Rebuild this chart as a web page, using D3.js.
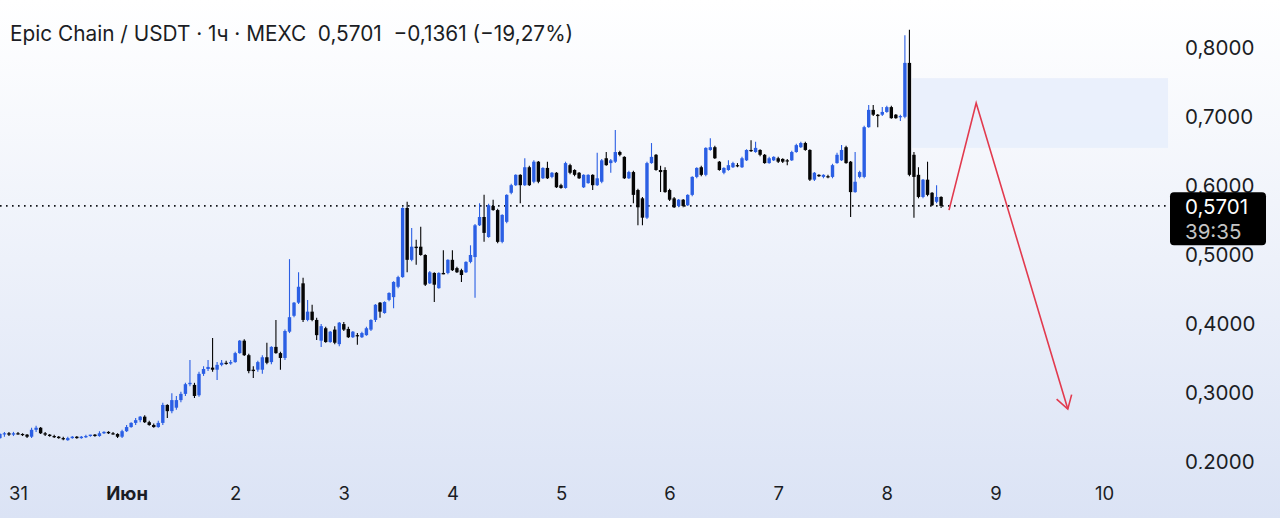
<!DOCTYPE html>
<html><head><meta charset="utf-8">
<script src="https://cdn.jsdelivr.net/npm/d3@7"></script>
<style>html,body{margin:0;padding:0;overflow:hidden;background:#fff}svg{display:block}</style>
</head><body><svg id="c" width="1280" height="518"></svg>
<script>
// ---- DATA (hourly candles, first candle = 30 May 20:00) ----
const opens = [
.234,.240,.241,.239,.241,.240,.239,.236,.246,.249,
.241,.239,.237,.236,.234,.231,.234,.236,.234,.236,
.237,.239,.237,.241,.243,.241,.240,.236,.244,.250,
.256,.260,.265,.257,.253,.250,.256,.282,.273,.278,
.289,.298,.312,.311,.296,.327,.334,.336,.333,.340,
.343,.342,.344,.357,.375,.354,.333,.333,.333,.351,
.344,.366,.357,.350,.388,.411,.430,.458,.405,.417,
.405,.375,.393,.373,.391,.370,.399,.392,.380,.383,
.380,.383,.391,.405,.430,.415,.434,.438,.453,.467,
.567,.492,.511,.511,.499,.458,.473,.451,.473,.473,
.492,.480,.477,.474,.489,.496,.542,.554,.525,.570,
.564,.518,.547,.589,.600,.615,.600,.626,.605,.634,
.610,.625,.612,.618,.600,.596,.629,.622,.618,.597,
.603,.615,.600,.605,.639,.632,.634,.648,.641,.610,
.619,.593,.581,.553,.632,.644,.622,.622,.593,.581,
.570,.579,.571,.586,.612,.626,.615,.651,.655,.634,
.618,.622,.626,.629,.626,.636,.651,.648,.651,.644,
.632,.636,.639,.638,.636,.636,.648,.655,.661,.651,
.608,.615,.612,.613,.612,.632,.636,.655,.634,.590,
.612,.612,.684,.709,.702,.702,.706,.713,.702,.699,
.699,.777,.644,.615,.583,.608,.589,.576,.583];
const highs = [
.241,.243,.243,.243,.243,.241,.240,.249,.252,.250,
.243,.240,.239,.237,.236,.236,.237,.237,.237,.239,
.239,.240,.244,.244,.244,.243,.241,.246,.253,.257,
.263,.266,.267,.259,.255,.259,.285,.283,.299,.295,
.301,.314,.347,.314,.330,.338,.347,.379,.344,.347,
.346,.347,.359,.376,.377,.356,.338,.346,.354,.372,
.367,.405,.359,.391,.493,.431,.474,.466,.434,.427,
.408,.399,.395,.389,.396,.402,.402,.395,.389,.386,
.388,.395,.406,.428,.431,.432,.445,.461,.469,.568,
.576,.538,.521,.540,.500,.476,.474,.474,.506,.493,
.506,.482,.479,.490,.513,.544,.574,.586,.573,.579,
.566,.558,.587,.602,.616,.616,.639,.628,.636,.635,
.626,.634,.619,.619,.602,.634,.631,.623,.619,.616,
.616,.616,.647,.638,.648,.638,.680,.650,.642,.621,
.621,.595,.583,.634,.661,.645,.628,.626,.595,.583,
.580,.580,.587,.613,.626,.628,.655,.668,.657,.635,
.626,.636,.634,.632,.641,.652,.665,.663,.652,.645,
.641,.642,.641,.639,.638,.650,.660,.663,.663,.652,
.619,.616,.616,.615,.631,.647,.658,.657,.635,.648,
.621,.686,.716,.716,.703,.713,.715,.715,.703,.702,
.817,.825,.648,.626,.609,.634,.590,.600,.584];
const lows = [
.233,.236,.237,.237,.239,.237,.234,.234,.243,.240,
.237,.236,.234,.233,.231,.230,.233,.233,.233,.234,
.236,.236,.236,.240,.240,.239,.234,.234,.243,.249,
.253,.257,.256,.252,.249,.249,.253,.263,.270,.275,
.286,.295,.309,.292,.294,.324,.331,.330,.318,.338,
.340,.340,.343,.356,.353,.328,.321,.330,.327,.341,
.341,.356,.333,.347,.386,.409,.428,.402,.403,.403,
.376,.366,.372,.372,.370,.367,.389,.379,.379,.369,
.379,.382,.389,.402,.408,.414,.432,.422,.451,.466,
.474,.490,.485,.498,.454,.457,.431,.450,.471,.471,
.476,.473,.460,.473,.487,.437,.541,.518,.524,.563,
.516,.516,.545,.587,.599,.574,.599,.599,.603,.603,
.609,.609,.610,.596,.595,.595,.616,.613,.609,.596,
.602,.593,.599,.603,.628,.618,.632,.642,.609,.609,
.574,.542,.542,.551,.631,.621,.590,.589,.577,.567,
.568,.568,.570,.584,.610,.613,.613,.650,.638,.621,
.616,.621,.625,.626,.625,.635,.648,.647,.642,.631,
.631,.635,.632,.632,.629,.635,.647,.654,.650,.606,
.606,.612,.610,.610,.610,.631,.635,.631,.554,.589,
.610,.610,.683,.700,.684,.700,.705,.696,.696,.693,
.697,.613,.553,.581,.581,.584,.570,.574,.567];
const closes = [
.240,.241,.239,.241,.240,.239,.236,.246,.249,.241,
.239,.237,.236,.234,.233,.234,.236,.234,.236,.237,
.239,.237,.241,.243,.241,.240,.236,.244,.250,.256,
.260,.265,.257,.253,.250,.256,.282,.273,.289,.289,
.298,.312,.314,.295,.327,.334,.337,.333,.340,.343,
.342,.344,.357,.375,.354,.331,.331,.344,.351,.343,
.366,.357,.350,.389,.409,.430,.453,.405,.417,.405,
.383,.396,.373,.388,.372,.401,.391,.380,.388,.382,
.386,.393,.405,.427,.417,.431,.444,.460,.467,.567,
.492,.511,.509,.499,.456,.474,.456,.473,.471,.492,
.477,.474,.470,.489,.499,.542,.554,.531,.571,.564,
.518,.557,.586,.600,.615,.600,.626,.600,.634,.605,
.625,.610,.618,.597,.596,.632,.618,.615,.610,.615,
.615,.600,.610,.636,.629,.636,.648,.644,.610,.619,
.586,.568,.553,.632,.641,.622,.619,.590,.579,.568,
.579,.570,.586,.612,.625,.615,.654,.655,.639,.622,
.625,.629,.632,.628,.639,.651,.650,.654,.644,.632,
.639,.641,.634,.634,.635,.648,.658,.661,.651,.608,
.618,.613,.615,.612,.629,.644,.651,.632,.590,.605,
.619,.684,.709,.702,.700,.706,.713,.697,.697,.700,
.777,.615,.612,.583,.608,.586,.571,.583,.5701];
const firstCandleUTC = Date.UTC(2024,4,30,20);
const candleMs = 3600000;

const xTickDates = [Date.UTC(2024,4,31),Date.UTC(2024,5,1),Date.UTC(2024,5,2),Date.UTC(2024,5,3),Date.UTC(2024,5,4),Date.UTC(2024,5,5),Date.UTC(2024,5,6),Date.UTC(2024,5,7),Date.UTC(2024,5,8),Date.UTC(2024,5,9),Date.UTC(2024,5,10)];
const xTickLabels = ["31","Июн","2","3","4","5","6","7","8","9","10"];
const yTicks = [0.2,0.3,0.4,0.5,0.6,0.7,0.8];

const lastPrice = 0.5701;
const countdown = "39:35";
const titleText = "Epic Chain / USDT · 1ч · MEXC  0,5701  −0,1361 (−19,27%)";

const zoneTimes = [Date.UTC(2024,5,8,5,35), Date.UTC(2024,5,10,14,10)];
const zonePrices = [0.755, 0.654];

const arrowTimes = [Date.UTC(2024,5,8,13,45), Date.UTC(2024,5,8,19,45), Date.UTC(2024,5,9,16,0)];
const arrowPrices = [0.564, 0.719, 0.276];

// ---- DRAW ----
const W = 1280, H = 518, plotRight = 1168, plotBottom = 469;
const FONT = "Inter, 'Open Sans', sans-serif";
const svg = d3.select("#c");
const x = d3.scaleUtc().domain([new Date(xTickDates[0]), new Date(xTickDates[10])]).range([18,1104]);
const y = d3.scaleLinear().domain([0.2,0.8]).range([461.6,47]);

const defs = svg.append("defs");
const g = defs.append("linearGradient").attr("id","bg").attr("x1",0).attr("y1",0).attr("x2",0).attr("y2",1);
g.append("stop").attr("offset","0%").attr("stop-color","#ffffff");
g.append("stop").attr("offset","100%").attr("stop-color","#dbe3f5");
defs.append("clipPath").attr("id","plot").append("rect").attr("x",0).attr("y",0).attr("width",plotRight).attr("height",plotBottom);
defs.append("clipPath").attr("id","yax").append("rect").attr("x",plotRight).attr("y",0).attr("width",W-plotRight).attr("height",plotBottom);

svg.append("rect").attr("width",W).attr("height",H).attr("fill","url(#bg)");

const plot = svg.append("g").attr("clip-path","url(#plot)");

// zone
plot.append("rect")
  .attr("x", x(new Date(zoneTimes[0])))
  .attr("width", x(new Date(zoneTimes[1])) - x(new Date(zoneTimes[0])))
  .attr("y", y(zonePrices[0]))
  .attr("height", y(zonePrices[1]) - y(zonePrices[0]))
  .attr("fill","#e6edfb").attr("opacity",0.8);

// last price dotted line
plot.append("line").attr("x1",0).attr("x2",plotRight).attr("y1",y(lastPrice)).attr("y2",y(lastPrice))
  .attr("stroke","#111318").attr("stroke-width",1.6).attr("stroke-dasharray","1.6,4.4");

// candles
const UP = "#2b5fe4", DOWN = "#050505";
const data = opens.map((o,i)=>({t:new Date(firstCandleUTC + i*candleMs), o, h:highs[i], l:lows[i], c:closes[i]}));
const cg = plot.append("g");
data.forEach(d=>{
  const cx = x(d.t);
  const col = d.c >= d.o ? UP : DOWN;
  cg.append("line").attr("x1",cx).attr("x2",cx).attr("y1",y(d.h)).attr("y2",y(d.l)).attr("stroke",col).attr("stroke-width",1.1);
  const top = y(Math.max(d.o,d.c)), bot = y(Math.min(d.o,d.c));
  cg.append("rect").attr("x",cx-1.7).attr("width",3.4).attr("y",top).attr("height",Math.max(1.2,bot-top)).attr("fill",col);
});

// arrow
const lineGen = d3.line().x((d,i)=>x(new Date(arrowTimes[i]))).y((d,i)=>y(arrowPrices[i]));
plot.append("path").attr("d",lineGen(arrowPrices)).attr("fill","none").attr("stroke","#e23a4e").attr("stroke-width",1.6).attr("stroke-linejoin","miter");
{
  const tx = x(new Date(arrowTimes[2])), ty = y(arrowPrices[2]);
  const px = x(new Date(arrowTimes[1])), py = y(arrowPrices[1]);
  const ang = Math.atan2(py-ty, px-tx), L = 15, sp = 0.55;
  const p1 = [tx+L*Math.cos(ang+sp), ty+L*Math.sin(ang+sp)];
  const p2 = [tx+L*Math.cos(ang-sp), ty+L*Math.sin(ang-sp)];
  plot.append("path").attr("d",`M${p1[0]},${p1[1]}L${tx},${ty}L${p2[0]},${p2[1]}`).attr("fill","none").attr("stroke","#e23a4e").attr("stroke-width",1.6);
}

// y axis
const fmt = v => d3.format(".4f")(v).replace(".",",");
const yAxis = d3.axisRight(y).tickValues(yTicks).tickSize(0).tickPadding(0).tickFormat(fmt);
const ya = svg.append("g").attr("clip-path","url(#yax)").append("g").attr("transform","translate(1185,0)").call(yAxis);
ya.select(".domain").remove();
ya.selectAll("text").attr("font-family",FONT).attr("font-size",20.5).attr("fill","#1b1d24").attr("dy","0.36em");

// price label (drawn over the axis, as in the source)
const yl = y(lastPrice);
svg.append("rect").attr("x",1170).attr("y",yl-13.5).attr("width",96).attr("height",53).attr("rx",4).attr("fill","#000");
svg.append("text").attr("x",1185).attr("y",yl+1).attr("dy","0.36em").attr("font-family",FONT).attr("font-size",20.5).attr("fill","#ffffff").text(fmt(lastPrice));
svg.append("text").attr("x",1185).attr("y",yl+26).attr("dy","0.36em").attr("font-family",FONT).attr("font-size",20.5).attr("fill","#c4c4c4").text(countdown);

// x axis
const xAxis = d3.axisBottom(x).tickValues(xTickDates.map(d=>new Date(d))).tickSize(0).tickPadding(0).tickFormat((d,i)=>xTickLabels[i]);
const xa = svg.append("g").attr("transform","translate(0,493)").call(xAxis);
xa.select(".domain").remove();
xa.selectAll("text").attr("font-family",FONT).attr("font-size",18.5).attr("fill","#1b1d24").attr("dy","0.36em")
  .attr("font-weight",(d,i)=>xTickLabels[i]==="Июн"?700:400);

// title
svg.append("text").attr("x",10).attr("y",40.5).attr("font-family",FONT).attr("font-size",20.8).attr("fill","#1b1d24")
  .attr("xml:space","preserve").style("white-space","pre").text(titleText);
</script>
</body></html>
